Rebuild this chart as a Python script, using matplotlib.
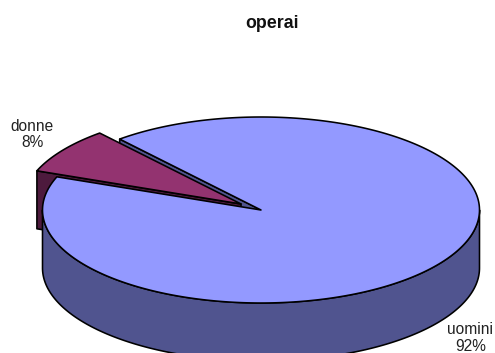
import numpy as np
import matplotlib
matplotlib.use('Agg')
import matplotlib.pyplot as plt
from matplotlib.patches import Polygon

plt.rcParams['font.family'] = ['Liberation Sans', 'DejaVu Sans']

title = 'operai'
categories = ['uomini', 'donne']
shares = [92, 8]

# pie layout, in pixels
cx, cy = 261.0, 210.0
rx, ry = 218.5, 93.0
depth = 58.0
explode = 0.112
start = 130.3

top_blue = '#9399ff'
side_blue = '#50548f'
top_purple = '#933370'
side_purple = '#4d1a3d'
lw = 1.15


def arc(x0, y0, a, b, n=200):
    t = np.radians(np.linspace(a, b, n))
    return np.column_stack([x0 + rx * np.cos(t), y0 - ry * np.sin(t)])


def shape(ax, pts, color, z):
    ax.add_patch(Polygon(pts, closed=True, facecolor=color, edgecolor='black',
                         linewidth=lw, joinstyle='round', zorder=z))


fig = plt.figure(figsize=(4.95, 3.53), dpi=100)
ax = fig.add_axes([0, 0, 1, 1])
ax.set_xlim(0, 495)
ax.set_ylim(353, 0)
ax.axis('off')

sweep = 360.0 * shares[1] / sum(shares)
end = start + sweep
mid = np.radians(start + sweep / 2)
wx = cx + explode * rx * np.cos(mid)
wy = cy - explode * ry * np.sin(mid)

# cut wall of the big slice, seen through the gap
p = arc(cx, cy, start, start, 1)
shape(ax, [(cx, cy), p[0], p[0] + (0, depth), (cx, cy + depth)], side_blue, 1)

# pulled out slice: cut wall first, then the top
p = arc(wx, wy, end, end, 1)
shape(ax, [(wx, wy), p[0], p[0] + (0, depth), (wx, wy + depth)], side_purple, 2)
shape(ax, np.vstack([[(wx, wy)], arc(wx, wy, start, end)]), top_purple, 3)

# big slice: outer wall and top
front = arc(cx, cy, 180, 360)
wall = np.vstack([front, (front + (0, depth))[::-1]])
shape(ax, wall, side_blue, 4)
shape(ax, np.vstack([[(cx, cy)], arc(cx, cy, end, start + 360, 600)]), top_blue, 5)

ax.text(32, 134.5, '%s\n%d%%' % (categories[1], shares[1]), ha='center', va='center',
        fontsize=11.2, color='#222222', linespacing=1.15)
ax.text(470.5, 338, '%s\n%d%%' % (categories[0], shares[0]), ha='center', va='center',
        fontsize=11.2, color='#222222', linespacing=1.15)
ax.text(272.5, 23, title, ha='center', va='center', fontsize=12.8, fontweight='bold',
        color='#111111')

fig.savefig('out.png', dpi=100, facecolor='white')
